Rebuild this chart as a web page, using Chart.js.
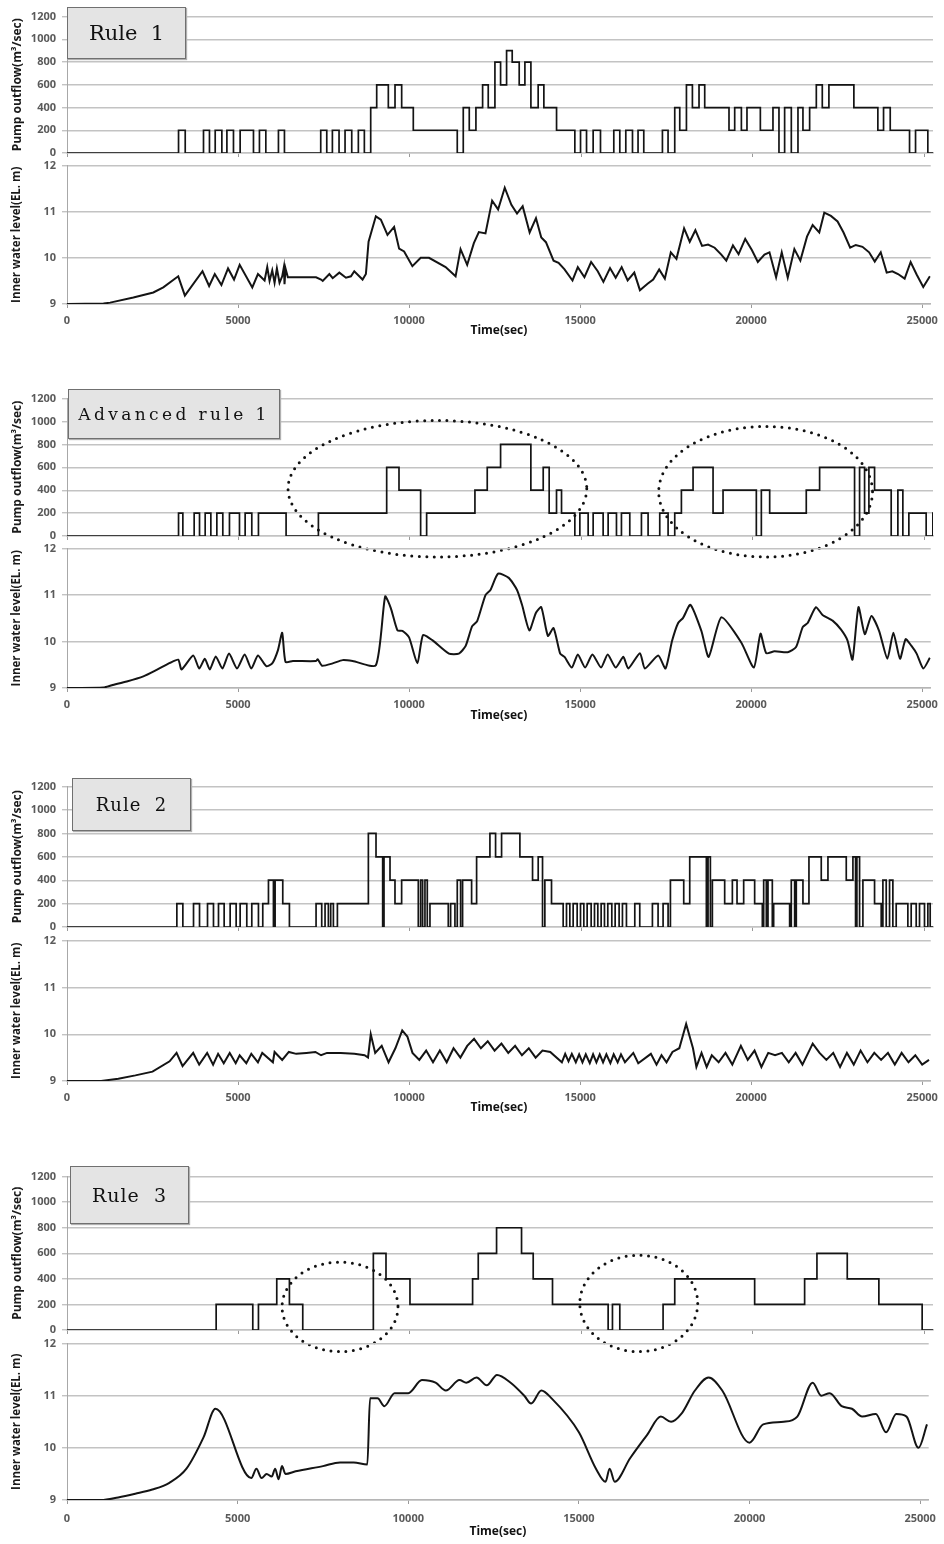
<!DOCTYPE html>
<html>
<head>
<meta charset="utf-8">
<script src="https://cdn.jsdelivr.net/npm/chart.js@4.4.0/dist/chart.umd.min.js"></script>
<style>
  body { margin: 0; background: #fff; width: 944px; height: 1544px; position: relative; overflow: hidden; }
  canvas { position: absolute; left: 0; }
  .tag { position: absolute; background: #e4e4e4; border: 1px solid #707070; box-shadow: 1px 1px 1px #b0b0b0;
         font-family: "DejaVu Serif", serif; color: #111; display: flex; align-items: center; justify-content: center;
         white-space: pre; z-index: 5; }
</style>
</head>
<body>
<div class="tag" style="left:67px;top:7px;width:117px;height:50px;font-size:21px;">Rule  1</div>
<div class="tag" style="left:68px;top:389px;width:210px;height:48px;font-size:17px;letter-spacing:3.4px;">Advanced rule 1</div>
<div class="tag" style="left:72px;top:778px;width:117px;height:51px;font-size:18px;letter-spacing:1px;">Rule  2</div>
<div class="tag" style="left:70px;top:1166px;width:117px;height:56px;font-size:19px;letter-spacing:1px;">Rule  3</div>
<script>
// [time(sec), pump outflow] -> value holds until the next change
const rule1Pump = [[0,0],[3252,200],[3447,0],[3980,200],[4154,0],[4321,200],[4515,0],[4662,200],[4854,0],[5048,200],[5437,0],[5611,200],[5797,0],[6165,200],[6340,0],[7398,200],[7574,0],[7738,200],[7932,0],[8107,200],[8302,0],[8495,200],[8670,0],[8855,400],[9030,600],[9369,400],[9564,600],[9758,400],[10097,200],[11379,0],[11554,400],[11729,200],[11923,400],[12118,600],[12282,400],[12477,800],[12642,600],[12817,900],[12981,800],[13185,600],[13351,800],[13526,400],[13738,600],[13904,400],[14274,200],[14807,0],[14973,200],[15148,0],[15341,200],[15555,0],[15943,200],[16118,0],[16293,200],[16488,0],[16650,200],[16817,0],[17361,200],[17525,0],[17720,400],[17866,200],[18061,600],[18235,400],[18428,600],[18594,400],[19302,200],[19468,400],[19663,200],[19826,400],[20216,200],[20584,400],[20759,0],[20924,400],[21119,0],[21313,400],[21458,200],[21653,400],[21848,600],[22022,400],[22215,600],[22943,400],[23642,200],[23808,400],[24003,200],[24566,0],[24741,200],[25099,0],[25250,0]];
const rule1Level = [[0,9.0],[1067,9.01],[1261,9.03],[1941,9.14],[2524,9.25],[2815,9.36],[3252,9.6],[3446,9.18],[3961,9.71],[4155,9.39],[4320,9.65],[4514,9.41],[4708,9.77],[4883,9.53],[5048,9.85],[5417,9.36],[5582,9.65],[5776,9.51],[5854,9.8],[5922,9.5],[6000,9.73],[6068,9.46],[6136,9.77],[6213,9.46],[6291,9.6],[6340,9.8],[6359,9.43],[6388,9.77],[6456,9.58],[7281,9.58],[7427,9.53],[7476,9.5],[7670,9.65],[7767,9.56],[7961,9.68],[8155,9.57],[8301,9.6],[8398,9.71],[8641,9.53],[8738,9.65],[8816,10.35],[9029,10.9],[9175,10.83],[9369,10.5],[9563,10.67],[9709,10.2],[9855,10.14],[10097,9.82],[10340,10.0],[10583,10.0],[11068,9.8],[11360,9.6],[11505,10.19],[11699,9.85],[11894,10.32],[12040,10.56],[12234,10.53],[12428,11.24],[12603,11.05],[12797,11.52],[12991,11.15],[13156,10.96],[13321,11.12],[13525,10.55],[13710,10.86],[13865,10.44],[14001,10.34],[14224,9.94],[14370,9.89],[14545,9.75],[14778,9.51],[14933,9.8],[15127,9.58],[15322,9.91],[15516,9.71],[15681,9.48],[15875,9.78],[16040,9.57],[16215,9.8],[16390,9.51],[16584,9.68],[16749,9.3],[16972,9.44],[17137,9.53],[17312,9.75],[17477,9.55],[17652,10.12],[17817,9.98],[18040,10.64],[18205,10.35],[18370,10.6],[18565,10.26],[18740,10.29],[18934,10.22],[19128,10.07],[19274,9.94],[19468,10.27],[19633,10.08],[19827,10.41],[20021,10.17],[20196,9.91],[20390,10.07],[20536,10.12],[20730,9.58],[20895,10.12],[21070,9.57],[21264,10.19],[21439,9.94],[21633,10.46],[21798,10.71],[21992,10.55],[22138,10.98],[22333,10.91],[22527,10.79],[22701,10.55],[22895,10.22],[23060,10.28],[23255,10.24],[23449,10.12],[23614,9.92],[23789,10.12],[23963,9.68],[24128,9.71],[24294,9.65],[24488,9.55],[24663,9.91],[24838,9.64],[25032,9.37],[25226,9.6]];

const advRule1Pump = [[0,0],[3252,200],[3378,0],[3708,200],[3864,0],[4029,200],[4194,0],[4369,200],[4543,0],[4737,200],[5029,0],[5194,200],[5388,0],[5582,200],[6388,0],[7330,200],[9321,600],[9680,400],[10311,0],[10486,200],[11894,400],[12253,600],[12642,800],[13525,400],[13885,600],[14059,200],[14273,400],[14419,200],[14807,0],[14953,200],[15195,0],[15341,200],[15632,0],[15778,200],[16021,0],[16166,200],[16409,0],[16749,200],[16943,0],[17283,200],[17526,0],[17720,200],[17914,400],[18254,600],[18837,200],[19128,400],[20099,0],[20245,400],[20488,200],[21555,400],[21944,600],[22963,0],[23109,600],[23255,200],[23381,600],[23546,400],[24031,0],[24226,400],[24371,0],[24546,200],[25051,0],[25245,200],[25250,200]];
const advRule1Level = [[0,9.0],[1067,9.01],[1310,9.06],[1747,9.14],[2232,9.25],[2621,9.39],[3009,9.54],[3252,9.61],[3349,9.4],[3689,9.7],[3864,9.42],[4029,9.63],[4174,9.4],[4349,9.68],[4543,9.42],[4737,9.74],[4970,9.42],[5194,9.72],[5388,9.42],[5582,9.7],[5825,9.47],[6000,9.53],[6165,9.81],[6291,10.19],[6388,9.56],[6602,9.58],[7281,9.58],[7330,9.62],[7456,9.48],[7767,9.53],[8058,9.6],[8350,9.58],[9029,9.49],[9301,10.97],[9466,10.72],[9660,10.24],[9806,10.23],[10000,10.09],[10243,9.53],[10408,10.14],[10680,10.03],[11166,9.74],[11457,9.74],[11651,9.9],[11845,10.33],[11991,10.44],[12234,11.0],[12379,11.11],[12603,11.46],[12914,11.37],[13156,11.11],[13302,10.79],[13516,10.24],[13710,10.62],[13865,10.74],[14059,10.12],[14224,10.29],[14418,9.74],[14545,9.67],[14758,9.44],[14933,9.72],[15147,9.44],[15360,9.72],[15613,9.44],[15807,9.72],[16040,9.44],[16263,9.67],[16409,9.42],[16749,9.75],[16895,9.42],[17283,9.7],[17497,9.42],[17691,10.02],[17866,10.4],[18011,10.51],[18225,10.79],[18545,10.23],[18759,9.67],[19128,10.52],[19711,9.98],[20079,9.44],[20274,10.17],[20439,9.75],[20682,9.79],[21070,9.77],[21313,9.88],[21507,10.31],[21653,10.4],[21895,10.74],[22089,10.57],[22381,10.45],[22624,10.26],[22818,10.02],[22963,9.61],[23138,10.74],[23323,10.16],[23517,10.55],[23740,10.23],[23983,9.63],[24158,10.19],[24352,9.63],[24517,10.05],[24682,9.91],[24838,9.74],[25032,9.42],[25226,9.65]];

const rule2Pump = [[0,0],[3203,200],[3378,0],[3689,200],[3864,0],[4097,200],[4271,0],[4417,200],[4582,0],[4757,200],[4932,0],[5048,200],[5242,0],[5388,200],[5582,0],[5708,200],[5874,400],[6019,0],[6068,400],[6291,200],[6485,0],[7262,200],[7427,0],[7524,200],[7621,0],[7689,200],[7767,0],[7884,200],[8787,800],[9010,600],[9204,0],[9243,600],[9418,400],[9563,200],[9757,400],[10243,0],[10311,400],[10369,0],[10437,400],[10505,0],[10583,200],[11117,0],[11185,200],[11311,0],[11379,400],[11476,0],[11534,400],[11797,200],[11943,600],[12331,800],[12496,600],[12671,800],[13205,600],[13574,400],[13739,600],[13865,0],[13933,400],[14127,200],[14467,0],[14564,200],[14661,0],[14758,200],[14875,0],[14972,200],[15069,0],[15166,200],[15283,0],[15380,200],[15477,0],[15574,200],[15671,0],[15768,200],[15885,0],[15982,200],[16098,0],[16195,200],[16312,0],[16555,200],[16700,0],[17069,200],[17234,0],[17380,200],[17526,0],[17594,400],[17982,200],[18157,600],[18642,0],[18691,600],[18759,0],[18817,400],[19176,200],[19400,400],[19536,200],[19730,400],[20050,200],[20274,0],[20313,400],[20390,0],[20439,400],[20565,0],[20604,200],[21070,0],[21118,400],[21216,0],[21264,400],[21458,200],[21633,600],[21992,400],[22187,600],[22721,400],[22915,600],[22992,0],[23031,600],[23109,0],[23206,400],[23546,200],[23740,0],[23789,400],[23886,0],[23983,400],[24080,0],[24177,200],[24517,0],[24614,200],[24760,0],[24857,200],[25002,0],[25100,200],[25168,0],[25250,0]];
const rule2Level = [[0,9.0],[1000,9.0],[1500,9.05],[2000,9.12],[2500,9.2],[3000,9.42],[3203,9.6],[3378,9.32],[3689,9.6],[3864,9.35],[4097,9.6],[4271,9.35],[4417,9.58],[4582,9.38],[4757,9.6],[4932,9.38],[5048,9.55],[5242,9.38],[5388,9.58],[5582,9.4],[5708,9.6],[6019,9.4],[6068,9.62],[6291,9.45],[6485,9.62],[6700,9.58],[7000,9.6],[7262,9.62],[7427,9.55],[7600,9.6],[8000,9.6],[8400,9.58],[8700,9.55],[8800,9.5],[8880,10.0],[9010,9.6],[9200,9.75],[9400,9.4],[9600,9.7],[9800,10.08],[9950,9.95],[10100,9.6],[10300,9.45],[10500,9.65],[10700,9.4],[10900,9.65],[11100,9.4],[11300,9.7],[11500,9.5],[11700,9.75],[11900,9.9],[12100,9.7],[12300,9.85],[12500,9.65],[12700,9.8],[12900,9.6],[13100,9.75],[13300,9.55],[13500,9.7],[13700,9.5],[13900,9.65],[14127,9.62],[14467,9.4],[14564,9.58],[14661,9.42],[14758,9.58],[14875,9.4],[14972,9.57],[15069,9.4],[15166,9.57],[15283,9.38],[15380,9.57],[15477,9.4],[15574,9.57],[15671,9.4],[15768,9.57],[15885,9.38],[15982,9.57],[16098,9.4],[16195,9.57],[16312,9.4],[16555,9.6],[16700,9.38],[17069,9.58],[17234,9.35],[17380,9.55],[17526,9.4],[17700,9.62],[17900,9.7],[18100,10.22],[18300,9.7],[18400,9.3],[18550,9.6],[18700,9.3],[18850,9.55],[19050,9.4],[19250,9.6],[19450,9.35],[19700,9.75],[19900,9.45],[20100,9.65],[20300,9.3],[20500,9.6],[20700,9.55],[20900,9.6],[21100,9.4],[21300,9.6],[21500,9.35],[21800,9.8],[22000,9.6],[22200,9.45],[22400,9.6],[22600,9.3],[22800,9.6],[23000,9.35],[23200,9.65],[23400,9.4],[23600,9.6],[23800,9.45],[24000,9.6],[24200,9.35],[24400,9.6],[24600,9.4],[24800,9.55],[25000,9.35],[25200,9.45]];

const rule3Pump = [[0,0],[4349,200],[5417,0],[5582,200],[6116,400],[6485,200],[6874,0],[8932,600],[9301,400],[10000,200],[11826,400],[11991,600],[12525,800],[13253,600],[13593,400],[14156,200],[15778,0],[15904,200],[16118,0],[17380,200],[17720,400],[20050,200],[21507,400],[21866,600],[22750,400],[23672,200],[24934,0],[25250,0]];
const rule3Level = [[0,9.0],[1000,9.0],[1500,9.05],[2000,9.12],[2500,9.2],[3000,9.33],[3500,9.6],[4000,10.2],[4350,10.75],[5400,9.42],[5550,9.6],[5700,9.42],[5850,9.5],[6000,9.45],[6100,9.6],[6200,9.4],[6300,9.65],[6400,9.5],[6700,9.55],[7500,9.65],[8000,9.72],[8400,9.72],[8800,9.68],[8880,10.95],[9100,10.95],[9300,10.8],[9600,11.05],[10000,11.05],[10400,11.3],[10800,11.25],[11100,11.1],[11500,11.3],[11700,11.25],[12000,11.35],[12300,11.2],[12600,11.4],[13000,11.25],[13400,11.0],[13600,10.85],[13900,11.1],[14200,10.95],[15000,10.3],[15500,9.6],[15780,9.35],[15900,9.6],[16050,9.35],[16500,9.8],[17000,10.25],[17400,10.6],[17700,10.5],[18000,10.65],[18400,11.1],[18800,11.35],[19200,11.1],[20000,10.1],[20400,10.45],[21000,10.5],[21400,10.6],[21850,11.25],[22100,11.0],[22350,11.05],[22700,10.8],[23000,10.75],[23300,10.6],[23700,10.65],[24000,10.3],[24300,10.65],[24600,10.6],[24950,10.0],[25200,10.45]];

// dotted ellipses: centre (time, outflow) and half sizes
const advRule1Marks = [[10800, 413, 4355, 596], [20370, 387, 3117, 570]];
const rule3Marks = [[7961, 181, 1690, 350], [16671, 208, 1719, 377]];

const pumpTicks = { min: 0, max: 1200, step: 200 };
const levelTicks = { min: 9, max: 12, step: 1 };
const timeTicks = [0, 5000, 10000, 15000, 20000, 25000];
const timeRange = { min: 0, max: 25250 };

const panels = [
    { pump: rule1Pump, level: rule1Level, marks: [], tension: 0, mono: false, pumpTop: 14, pumpBottom: 152.7, levelTop: 162.7, levelBottom: 303.3, labelPad: 6, timeGap: 27 },
    { pump: advRule1Pump, level: advRule1Level, marks: advRule1Marks, tension: 0.2, mono: false, pumpTop: 395.7, pumpBottom: 535.7, levelTop: 546, levelBottom: 688.3, labelPad: 6, timeGap: 28 },
    { pump: rule2Pump, level: rule2Level, marks: [], tension: 0, mono: false, pumpTop: 784, pumpBottom: 927.3, levelTop: 938, levelBottom: 1081, labelPad: 6, timeGap: 27 },
    { pump: rule3Pump, level: rule3Level, marks: rule3Marks, tension: 0, mono: true, pumpTop: 1174, pumpBottom: 1330, levelTop: 1341, levelBottom: 1500, labelPad: 8, timeGap: 32 }
];

const FONT = '"Open Sans", "DejaVu Sans", sans-serif';
const tickFont = { family: FONT, size: 11, weight: 'bold' };
const AXIS_W = 67;

function crearCanvas(top, height) {
    const c = document.createElement("canvas");
    c.width = 944;
    c.height = height;
    c.style.top = top + "px";
    document.body.appendChild(c);
    return c;
}

function elipsesPlugin(marks) {
    return {
        id: 'elipses',
        afterDatasetsDraw(chart) {
            const ctx = chart.ctx;
            const x = chart.scales.x, y = chart.scales.y;
            ctx.save();
            ctx.strokeStyle = '#111';
            ctx.lineWidth = 3;
            ctx.lineCap = 'round';
            ctx.setLineDash([0, 7.5]);
            for (const m of marks) {
                const cx = x.getPixelForValue(m[0]);
                const cy = y.getPixelForValue(m[1]);
                const rx = Math.abs(x.getPixelForValue(m[0] + m[2]) - cx);
                const ry = Math.abs(y.getPixelForValue(m[1] + m[3]) - cy);
                ctx.beginPath();
                ctx.ellipse(cx, cy, rx, ry, 0, 0, Math.PI * 2);
                ctx.stroke();
            }
            ctx.restore();
        }
    };
}

function fijarTicks(scale) {
    scale.ticks = timeTicks.map(v => ({ value: v }));
}

function ejeY(rango, titulo, titleSize) {
    return {
        min: rango.min, max: rango.max,
        afterFit: s => { s.width = AXIS_W; },
        ticks: { stepSize: rango.step, padding: 6, color: '#5a5a5a', font: tickFont, callback: v => String(v) },
        grid: { color: '#c3c3c3', lineWidth: 1.4, tickLength: 5 },
        border: { color: '#a8a8a8', width: 1 },
        title: { display: true, text: titulo, color: '#1a1a1a', font: { family: FONT, size: titleSize, weight: 'bold' }, padding: { top: 10, bottom: 0 } }
    };
}

function grafPump(p) {
    const areaH = Math.round(p.pumpBottom - p.pumpTop);
    const canvas = crearCanvas(Math.round(p.pumpTop) - 10, areaH + 10 + 5 + 30);
    return new Chart(canvas, {
        type: 'line',
        data: {
            datasets: [{
                data: p.pump.map(d => ({ x: d[0], y: d[1] })),
                stepped: true,
                borderColor: '#141414',
                borderWidth: 1.7,
                pointRadius: 0
            }]
        },
        options: {
            responsive: false, animation: false,
            layout: { padding: { top: 10, right: 11, bottom: 30, left: 0 } },
            plugins: { legend: { display: false }, tooltip: { enabled: false } },
            scales: {
                x: {
                    type: 'linear', min: timeRange.min, max: timeRange.max,
                    afterBuildTicks: fijarTicks,
                    afterFit: s => { s.height = 5; },
                    ticks: { display: false },
                    grid: { drawOnChartArea: false, tickLength: 4, color: '#9a9a9a' },
                    border: { color: '#c3c3c3', width: 1.4 }
                },
                y: ejeY(pumpTicks, 'Pump outflow(m\u00b3/sec)', 12)
            }
        },
        plugins: [elipsesPlugin(p.marks)]
    });
}

function grafNivel(p) {
    const areaH = Math.round(p.levelBottom - p.levelTop);
    const xh = p.timeGap + 9;
    const canvas = crearCanvas(Math.round(p.levelTop) - 10, areaH + 10 + xh + 2);
    return new Chart(canvas, {
        type: 'line',
        data: {
            datasets: [{
                data: p.level.map(d => ({ x: d[0], y: d[1] })),
                borderColor: '#141414',
                borderWidth: 2,
                pointRadius: 0,
                cubicInterpolationMode: p.mono ? 'monotone' : 'default',
                tension: p.tension
            }]
        },
        options: {
            responsive: false, animation: false,
            layout: { padding: { top: 10, right: 11, bottom: 2, left: 0 } },
            plugins: { legend: { display: false }, tooltip: { enabled: false } },
            scales: {
                x: {
                    type: 'linear', min: timeRange.min, max: timeRange.max,
                    afterBuildTicks: fijarTicks,
                    afterFit: s => { s.height = xh; },
                    ticks: { padding: p.labelPad, color: '#5a5a5a', font: tickFont, maxRotation: 0, autoSkip: false, callback: v => String(v) },
                    grid: { drawOnChartArea: false, tickLength: 4, color: '#9a9a9a' },
                    border: { color: '#b5b5b5', width: 1.4 },
                    title: { display: true, text: 'Time(sec)', color: '#111', font: { family: FONT, size: 12, weight: 'bold' }, padding: { top: 0, bottom: 2 } }
                },
                y: ejeY(levelTicks, 'Inner water level(EL. m)', 11.5)
            }
        }
    });
}

for (const p of panels) {
    grafPump(p);
    grafNivel(p);
}
</script>
</body>
</html>
